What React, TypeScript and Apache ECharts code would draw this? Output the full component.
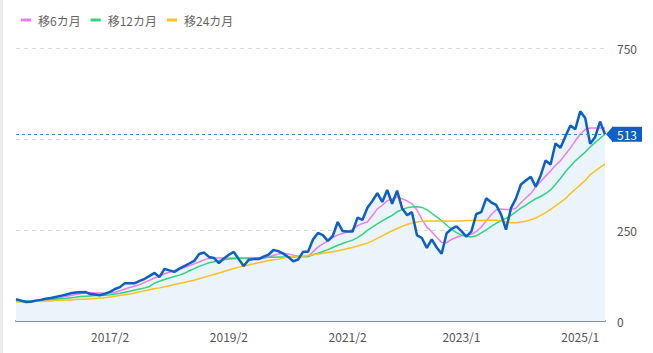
import React, { useEffect, useRef } from "react";
import * as echarts from "echarts";

// Monthly categories 2015/7 .. 2025/6
const startYear = 2015;
const startMonth = 7;
const monthCount = 120;
const months: string[] = Array.from({ length: monthCount }, (_, i) => {
  const m = startMonth - 1 + i;
  return `${startYear + Math.floor(m / 12)}/${(m % 12) + 1}`;
});

const labelMonths = ["2017/2", "2019/2", "2021/2", "2023/1", "2025/1"];
const yTickLabels = ["0", "250", "750"];

const price = [
  60, 56, 52, 53, 56, 58, 61, 63, 66, 69,
  72, 76, 78, 79, 80, 74, 73, 71, 75, 80,
  88, 93, 104, 104, 104, 110, 116, 124, 132, 121,
  143, 139, 135, 144, 151, 158, 165, 184, 188, 176,
  173, 159, 172, 182, 190, 170, 151, 168, 170, 170,
  177, 182, 195, 192, 185, 176, 164, 169, 190, 190,
  224, 242, 236, 220, 234, 272, 247, 246, 246, 284,
  278, 311, 330, 351, 327, 360, 322, 358, 310, 291,
  299, 236, 228, 201, 224, 202, 185, 241, 253, 260,
  247, 232, 246, 294, 299, 337, 326, 319, 293, 251,
  310, 336, 375, 386, 396, 369, 400, 441, 430, 488,
  476, 507, 537, 527, 576, 558, 487, 505, 548, 513,
];

const ma6 = [
  57, 56, 55, 55, 55, 56, 57, 59, 61, 64,
  67, 70, 73, 75, 77, 78, 77, 77, 76, 77,
  79, 83, 88, 92, 96, 100, 106, 112, 118, 123,
  130, 134, 138, 142, 147, 152, 157, 162, 168, 172,
  173, 173, 173, 173, 173, 173, 172, 172, 171, 170,
  172, 176, 180, 184, 186, 184, 181, 178, 177, 177,
  190, 203, 212, 220, 230, 236, 241, 245, 252, 262,
  268, 272, 290, 308, 318, 330, 335, 341, 336, 330,
  322, 305, 280, 258, 245, 230, 216, 215, 224, 230,
  234, 236, 238, 246, 258, 275, 292, 305, 308, 306,
  306, 310, 325, 338, 350, 368, 383, 398, 412, 428,
  440, 458, 475, 495, 513, 526, 530, 530, 530, 530,
];

const ma12 = [
  55, 55, 55, 55, 56, 57, 58, 59, 60, 61,
  62, 64, 65, 67, 68, 69, 70, 70, 71, 72,
  74, 76, 79, 82, 85, 88, 91, 95, 104, 109,
  114, 118, 122, 126, 131, 138, 144, 150, 155, 160,
  163, 166, 168, 170, 171, 172, 173, 173, 173, 174,
  174, 175, 175, 176, 176, 176, 176, 177, 177, 177,
  182, 186, 191, 196, 202, 208, 213, 218, 222, 229,
  238, 249, 258, 267, 275, 283, 290, 300, 306, 311,
  313, 314, 312, 306, 296, 286, 276, 263, 252, 243,
  236, 233, 231, 234, 242, 250, 260, 268, 276, 282,
  290, 300, 310, 318, 327, 336, 342, 350, 360, 375,
  392, 410, 425, 440, 452, 464, 478, 490, 502, 513,
];

const ma24 = [
  52, 52, 53, 53, 54, 54, 55, 55, 56, 57,
  58, 58, 59, 60, 60, 61, 62, 63, 64, 66,
  68, 70, 72, 74, 77, 80, 83, 86, 89, 91,
  94, 97, 100, 103, 106, 109, 112, 116, 120, 124,
  128, 132, 136, 140, 144, 148, 151, 154, 157, 160,
  163, 166, 168, 170, 173, 175, 176, 177, 178, 180,
  182, 184, 186, 188, 190, 193, 196, 199, 202, 206,
  210, 214, 220, 227, 234, 241, 248, 254, 260, 265,
  269, 272, 274, 275, 275, 275, 275, 275, 275, 275,
  275, 276, 276, 276, 276, 277, 277, 277, 275, 272,
  270, 270, 272, 274, 278, 283, 290, 298, 307, 316,
  326, 336, 350, 362, 374, 386, 402, 412, 422, 431,
];

const currentValue = 513;

const FONT = "'Noto Sans CJK JP', 'Noto Sans', sans-serif";

export default function App() {
  const ref = useRef<HTMLDivElement>(null);

  useEffect(() => {
    if (!ref.current) return;
    const chart = echarts.init(ref.current, undefined, { renderer: "svg" });
    const option: any = {
      animation: false,
      grid: { left: 16, right: 48, top: 48, bottom: 32 },
      legend: {
        left: 16,
        top: 9,
        itemWidth: 10,
        itemHeight: 3,
        itemGap: 10,
        icon: "rect",
        data: ["移6カ月", "移12カ月", "移24カ月"],
        textStyle: { color: "#666", fontSize: 12, fontFamily: FONT, padding: [0, 0, 0, 2] },
      },
      xAxis: {
        type: "category",
        data: months,
        boundaryGap: false,
        axisLine: { show: true, lineStyle: { color: "#8a8e96", width: 2 } },
        axisTick: { show: false },
        splitLine: { show: false },
        axisLabel: {
          interval: (_i: number, v: string) => labelMonths.includes(v),
          color: "#555",
          fontSize: 12,
          fontFamily: FONT,
          margin: 9,
        },
      },
      yAxis: {
        type: "value",
        position: "right",
        min: 0,
        max: 750,
        interval: 250,
        axisLine: { show: false },
        axisTick: { show: false },
        axisLabel: {
          color: "#555",
          fontSize: 12,
          fontFamily: FONT,
          margin: 12,
          formatter: (v: number) => (yTickLabels.includes(String(v)) ? String(v) : ""),
        },
        splitLine: { show: true, lineStyle: { color: "#d9d9d9", type: [4, 4], width: 1 } },
      },
      series: [
        {
          name: "area",
          type: "line",
          data: price,
          showSymbol: false,
          symbol: "none",
          lineStyle: { width: 0 },
          areaStyle: { color: "#ebf3fb", opacity: 1 },
          z: 1,
          silent: true,
        },
        {
          name: "移6カ月",
          type: "line",
          data: ma6,
          symbol: "none",
          lineStyle: { color: "#ee7cf3", width: 1.5 },
          itemStyle: { color: "#ee7cf3" },
          z: 2,
        },
        {
          name: "移12カ月",
          type: "line",
          data: ma12,
          symbol: "none",
          lineStyle: { color: "#2fd67f", width: 1.5 },
          itemStyle: { color: "#2fd67f" },
          z: 2,
        },
        {
          name: "移24カ月",
          type: "line",
          data: ma24,
          symbol: "none",
          lineStyle: { color: "#fcc21b", width: 1.5 },
          itemStyle: { color: "#fcc21b" },
          z: 2,
        },
        {
          name: "price",
          type: "line",
          data: price,
          symbol: "none",
          lineStyle: { color: "#0b5fc6", width: 2.5 },
          itemStyle: { color: "#0b5fc6" },
          z: 3,
          markLine: {
            silent: true,
            symbol: "none",
            data: [{ yAxis: currentValue }],
            lineStyle: { color: "#3d86db", type: [3, 3], width: 1 },
            label: {
              show: true,
              position: "end",
              distance: 7,
              formatter: String(currentValue),
              color: "#fff",
              backgroundColor: "#0b5fc6",
              padding: [2, 5, 1, 5],
              fontSize: 12,
              fontFamily: FONT,
            },
          },
        },
      ],
    };
    chart.setOption(option);
    const py = chart.convertToPixel({ yAxisIndex: 0 }, currentValue) as number;
    const px = chart.convertToPixel({ xAxisIndex: 0 }, months[months.length - 1]) as number;
    chart.setOption({
      graphic: [
        { type: "rect", shape: { x: 0, y: 0, width: 3, height: 353 }, style: { fill: "#ececec" } },
        {
          type: "polygon",
          shape: { points: [[px + 1, py], [px + 8, py - 8], [px + 8, py + 8]] },
          style: { fill: "#0b5fc6" },
          z: 10,
        },
      ],
    });
    return () => chart.dispose();
  }, []);

  return (
    <div
      ref={ref}
      style={{ position: "fixed", left: 0, top: 0, width: 653, height: 353, background: "#fff" }}
    />
  );
}
